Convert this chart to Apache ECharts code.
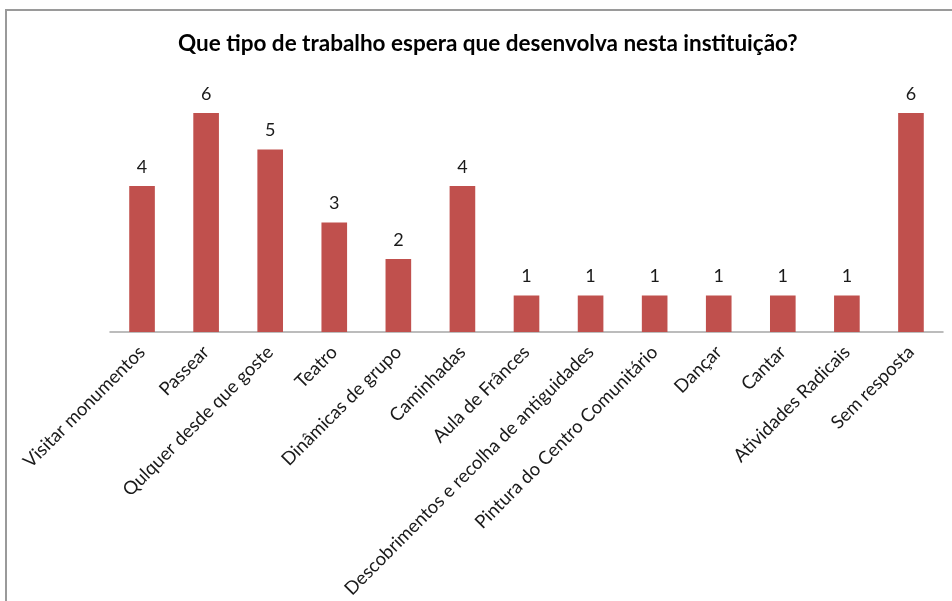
<!DOCTYPE html>
<html>
<head>
<meta charset="utf-8">
<script src="https://cdn.jsdelivr.net/npm/echarts@6/dist/echarts.min.js"></script>
<style>
  html, body { margin: 0; padding: 0; background: #fff; }
  #chart { width: 952px; height: 601px; }
</style>
</head>
<body>
<div id="chart"></div>
<script>
// Activity categories and number of answers for each
const categories = [
  'Visitar monumentos',
  'Passear',
  'Qulquer desde que goste',
  'Teatro',
  'Dinâmicas de grupo',
  'Caminhadas',
  'Aula de Frânces',
  'Descobrimentos e recolha de antiguidades',
  'Pintura do Centro Comunitário',
  'Dançar',
  'Cantar',
  'Atividades Radicais',
  'Sem resposta'
];
const answers = [4, 6, 5, 3, 2, 4, 1, 1, 1, 1, 1, 1, 6];
const titleText = 'Que tipo de trabalho espera que desenvolva nesta instituição?';

const chart = echarts.init(document.getElementById('chart'), null, { renderer: 'canvas' });

const FONT = 'Lato, "Open Sans", sans-serif';

chart.setOption({
  animation: false,
  backgroundColor: '#ffffff',
  title: {
    text: titleText,
    left: 173,
    top: 27,
    textStyle: {
      fontFamily: FONT,
      fontSize: 22.5,
      fontWeight: 'bold',
      color: '#000000'
    }
  },
  graphic: [{
    type: 'rect',
    shape: { x: 6, y: 10, width: 1000, height: 700 },
    style: { fill: 'none', stroke: '#9a9a9a', lineWidth: 2 },
    silent: true
  }],
  grid: {
    left: 110,
    right: 9,
    top: 76.5,
    bottom: 269,
    containLabel: false,
    outerBoundsMode: 'none'
  },
  xAxis: {
    type: 'category',
    data: categories,
    axisLine: { show: true, lineStyle: { color: '#a6a6a6', width: 1.5 } },
    axisTick: { show: false },
    axisLabel: {
      interval: 0,
      rotate: 45,
      margin: 17,
      fontFamily: FONT,
      fontSize: 18.5,
      color: '#1a1a1a'
    }
  },
  yAxis: {
    type: 'value',
    min: 0,
    max: 7,
    interval: 1,
    show: false,
    splitLine: { show: false }
  },
  series: [{
    type: 'bar',
    data: answers,
    barWidth: '40%',
    itemStyle: { color: '#c0504d' },
    label: {
      show: true,
      position: 'top',
      distance: 10,
      fontFamily: FONT,
      fontSize: 18,
      color: '#1a1a1a'
    }
  }]
});
</script>
</body>
</html>
